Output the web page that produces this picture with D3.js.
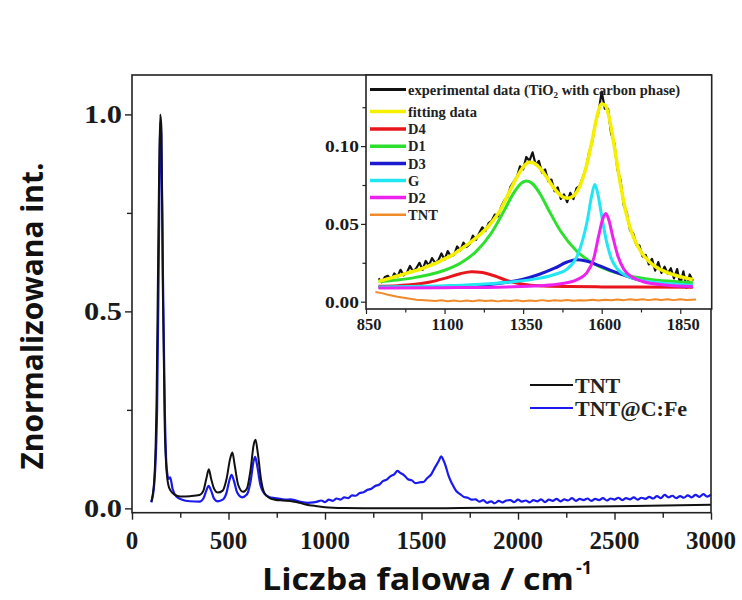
<!DOCTYPE html>
<html><head><meta charset="utf-8">
<script src="https://cdn.jsdelivr.net/npm/d3@7"></script>
<style>body{margin:0;background:#fff}svg{display:block}</style>
</head><body><svg id="c" width="742" height="600"></svg>
<script>
// ---------- main chart data ----------
const xTicksMain = [0, 500, 1000, 1500, 2000, 2500, 3000];
const yTicksMain = [0.0, 0.5, 1.0];
const tntX = [100,115,128,138,146,152,160,170,180,188,200,220,250,300,350,370,385,398,410,425,445,470,490,508,520,532,550,575,595,615,630,640,652,668,685,710,740,780,820,860,900,950,1000,1100,1300,1500,1700,2000,2300,2600,3000];
const tntY = [0.017,0.07,0.3,0.75,1.0,0.97,0.55,0.2,0.09,0.06,0.045,0.035,0.03,0.031,0.034,0.045,0.075,0.099,0.075,0.05,0.04,0.045,0.075,0.125,0.142,0.11,0.06,0.042,0.05,0.1,0.16,0.174,0.14,0.075,0.04,0.027,0.022,0.02,0.019,0.015,0.01,0.006,0.003,0.001,0.0,0.0,0.001,0.002,0.004,0.006,0.009];
const cfeX = [100,115,130,140,147,152,160,170,180,190,198,210,230,260,300,350,370,385,397,410,425,445,470,490,505,516,528,545,570,595,615,630,638,648,665,685,710,740,770,800,820,850,880,910,940,
960,980,1000,1020,1040,1060,1080,1100,1120,1140,1160,1180,1200,1220,1240,1260,1280,1300,1320,1340,1360,1375,1390,1410,1430,1450,1470,1490,1510,1530,1550,1570,1590,1602,1612,1625,1640,1660,1680,1700,1720,1740,1760,1780,1800,1820,1840,1860,1880,1900,1920,1940,
1960,1980,2000,2020,2040,2060,2080,2100,2120,2140,2160,2180,2200,2220,2240,2260,2280,2300,2320,2340,2360,2380,2400,2420,2440,2460,2480,2500,2520,2540,2560,2580,2600,2620,2640,2660,2680,2700,2720,2740,2760,2780,2800,2820,2840,2860,2880,2900,2920,2940,2960,2980,3000];
const cfeY = [0.015,0.06,0.25,0.7,0.98,0.95,0.6,0.25,0.1,0.075,0.079,0.05,0.03,0.022,0.018,0.017,0.025,0.045,0.057,0.045,0.025,0.018,0.022,0.04,0.072,0.085,0.07,0.04,0.028,0.035,0.07,0.12,0.131,0.11,0.06,0.038,0.029,0.026,0.024,0.022,0.023,0.02,0.016,0.014,0.015,
0.017,0.020,0.016,0.022,0.019,0.025,0.022,0.028,0.026,0.033,0.032,0.039,0.041,0.047,0.050,0.057,0.060,0.069,0.073,0.082,0.087,0.095,0.090,0.084,0.074,0.071,0.064,0.066,0.067,0.077,0.086,0.104,0.121,0.132,0.124,0.108,0.083,0.061,0.044,0.036,0.029,0.027,0.022,0.023,0.017,0.021,0.014,0.018,0.013,0.019,0.015,0.020,
0.021,0.016,0.022,0.017,0.020,0.015,0.021,0.018,0.023,0.016,0.022,0.019,0.024,0.018,0.023,0.020,0.026,0.019,0.024,0.021,0.025,0.019,0.024,0.021,0.026,0.020,0.025,0.022,0.027,0.021,0.026,0.023,0.028,0.022,0.027,0.024,0.029,0.025,0.031,0.026,0.034,0.028,0.032,0.026,0.031,0.027,0.033,0.028,0.034,0.029,0.036,0.030,0.035];
const mainSeries = ["TNT", "TNT@C:Fe"];

// ---------- inset data ----------
const xTicksInset = [850, 1100, 1350, 1600, 1850];
const yTicksInset = [0.00, 0.05, 0.10];
const expX = [890,900,910,920,930,940,950,960,970,980,990,1000,1010,1020,1030,1040,1050,1060,1070,1080,1090,1100,1110,1120,1130,1140,1150,1160,1170,1180,1190,1200,1210,1220,1230,1240,1250,1260,1270,1280,1290,1300,1310,1320,1330,1340,1350,1360,1370,1380,1390,1400,1410,1420,1430,1440,1450,1460,1470,1480,1490,1500,1510,1520,1530,1540,1550,1560,1570,1580,1590,1600,1610,1620,1630,1640,1650,1660,1670,1680,1690,1700,1710,1720,1730,1740,1750,1760,1770,1780,1790,1800,1810,1820,1830,1840,1850,1860,1870,1880,1890];
const expY = [0.0150,0.0125,0.0158,0.0166,0.0140,0.0182,0.0160,0.0205,0.0170,0.0186,0.0230,0.0192,0.0215,0.0250,0.0205,0.0262,0.0232,0.0280,0.0250,0.0265,0.0310,0.0270,0.0325,0.0292,0.0300,0.0355,0.0330,0.0380,0.0352,0.0370,0.0425,0.0398,0.0440,0.0478,0.0455,0.0505,0.0520,0.0560,0.0548,0.0610,0.0650,0.0670,0.0740,0.0770,0.0800,0.0870,0.0850,0.0930,0.0905,0.0960,0.0880,0.0905,0.0830,0.0850,0.0775,0.0785,0.0710,0.0735,0.0660,0.0690,0.0640,0.0700,0.0660,0.0730,0.0745,0.0800,0.0860,0.0960,0.1030,0.1150,0.1220,0.1350,0.1240,0.1240,0.1080,0.1020,0.0850,0.0780,0.0620,0.0570,0.0460,0.0440,0.0365,0.0360,0.0290,0.0300,0.0240,0.0275,0.0200,0.0255,0.0185,0.0225,0.0180,0.0215,0.0150,0.0210,0.0110,0.0195,0.0090,0.0175,0.0135];
const fitX = [890,925,950,975,1000,1025,1050,1075,1100,1125,1150,1175,1200,1225,1250,1275,1300,1325,1350,1368,1385,1400,1425,1450,1475,1492,1510,1530,1550,1570,1585,1600,1612,1625,1640,1660,1680,1700,1725,1750,1775,1800,1825,1850,1890];
const fitY = [0.013,0.015,0.0165,0.018,0.0195,0.021,0.023,0.025,0.0275,0.030,0.0335,0.037,0.041,0.0455,0.051,0.058,0.068,0.078,0.0865,0.0897,0.089,0.0865,0.080,0.0725,0.0675,0.0665,0.068,0.074,0.086,0.104,0.119,0.127,0.126,0.117,0.1,0.075,0.055,0.042,0.032,0.026,0.022,0.0195,0.0175,0.016,0.0143];
const d4X = [890,950,1000,1050,1100,1150,1186,1220,1260,1300,1350,1400,1500,1600,1700,1890];
const d4Y = [0.0100,0.0103,0.0110,0.0125,0.0150,0.0180,0.0193,0.0187,0.0165,0.0135,0.0112,0.0102,0.0097,0.0095,0.0094,0.0093];
const d1X = [890,950,1000,1050,1100,1150,1200,1250,1290,1320,1345,1361,1380,1405,1430,1470,1520,1570,1620,1680,1750,1820,1890];
const d1Y = [0.0129,0.0140,0.0153,0.0173,0.0202,0.0247,0.0322,0.0445,0.0587,0.0699,0.0763,0.0776,0.0758,0.0689,0.0594,0.0451,0.0326,0.0250,0.0203,0.0169,0.0145,0.0131,0.0121];
const d3X = [890,1000,1100,1200,1250,1300,1350,1400,1450,1490,1519,1550,1600,1650,1700,1750,1800,1850,1890];
const d3Y = [0.0092,0.0094,0.0098,0.0105,0.0112,0.0125,0.0145,0.0175,0.0215,0.0255,0.027,0.0262,0.0225,0.0185,0.015,0.0125,0.011,0.0102,0.0098];
const gX = [890,1000,1100,1200,1300,1400,1450,1490,1520,1540,1555,1568,1578,1588,1600,1615,1630,1650,1680,1720,1780,1840,1890];
const gY = [0.0095,0.0098,0.0102,0.011,0.0125,0.015,0.0175,0.021,0.0285,0.040,0.053,0.068,0.0754,0.069,0.055,0.039,0.028,0.021,0.0165,0.014,0.0122,0.0112,0.0106];
const d2X = [890,1100,1300,1400,1470,1520,1550,1575,1590,1603,1613,1622,1635,1652,1670,1695,1730,1800,1890];
const d2Y = [0.0088,0.009,0.0095,0.0102,0.0115,0.014,0.018,0.028,0.042,0.053,0.0567,0.053,0.042,0.029,0.021,0.016,0.013,0.0108,0.0098];
const tntInsetX = [880,900,920,950,980,1010,1050,1070,1090,1110,1130,1150,1170,1190,1210,1230,1250,1270,1290,1310,1330,1350,1370,1390,1410,1430,1450,1470,1490,1510,1530,1550,1570,1590,1610,1630,1650,1670,1690,1710,1730,1750,1770,1790,1810,1830,1850,1870,1900];
const tntInsetY = [0.0062,0.0055,0.0045,0.0032,0.0022,0.0013,0.0008,0.0004,0.0009,0.0003,0.0008,0.0002,0.0007,0.0003,0.0009,0.0004,0.0008,0.0002,0.0008,0.0004,0.0009,0.0003,0.0007,0.0004,0.0010,0.0005,0.0009,0.0006,0.0011,0.0006,0.0010,0.0007,0.0012,0.0008,0.0013,0.0009,0.0014,0.0010,0.0016,0.0011,0.0015,0.0010,0.0016,0.0011,0.0015,0.0010,0.0016,0.0011,0.0014];
const insetLegend = ["fitting data", "D4", "D1", "D3", "G", "D2", "TNT"];

// ---------- drawing ----------
const svg = d3.select("#c");
const serif = "'Liberation Serif','Times New Roman',serif";
const sans = "'Open Sans','Noto Sans',sans-serif";

const M = {l:132, r:711, t:75, b:512.7};
const x = d3.scaleLinear().domain([0,3000]).range([M.l, M.r]);
const y = d3.scaleLinear().domain([-0.011, 1.10]).range([M.b, M.t]);

const zip = (a,b) => a.map((v,i)=>[v,b[i]]);

// main curves
const lineMain = d3.line().x(d=>x(d[0])).y(d=>y(d[1]));
svg.append("path").datum(zip(cfeX,cfeY)).attr("d", lineMain.curve(d3.curveMonotoneX))
  .attr("fill","none").attr("stroke","#1a1aee").attr("stroke-width",2.2);
svg.append("path").datum(zip(tntX,tntY)).attr("d", lineMain.curve(d3.curveMonotoneX))
  .attr("fill","none").attr("stroke","#111").attr("stroke-width",2);

// main frame
svg.append("rect").attr("x",M.l).attr("y",M.t).attr("width",M.r-M.l).attr("height",M.b-M.t)
  .attr("fill","none").attr("stroke","#222").attr("stroke-width",1.6);

// main axes
const gx = svg.append("g").attr("transform",`translate(0,${M.b})`);
gx.call(d3.axisBottom(x).tickValues(d3.range(0,3001,250)).tickSize(6).tickFormat(""));
gx.selectAll(".tick line").attr("y2", d => d%500===0 ? 7 : 5).attr("stroke","#222").attr("stroke-width",1.4);
gx.select(".domain").remove();
gx.selectAll(".lbl").data(xTicksMain).enter().append("text").attr("class","lbl")
  .attr("x", d=>x(d)).attr("y", 36).attr("text-anchor","middle").attr("fill","#1a1a1a")
  .attr("font-family",serif).attr("font-weight","bold").attr("font-size",25).text(d=>d);

const gy = svg.append("g").attr("transform",`translate(${M.l},0)`);
gy.call(d3.axisLeft(y).tickValues([0,0.25,0.5,0.75,1.0]).tickSize(6).tickFormat(""));
gy.selectAll(".tick line").attr("x2", d => (Math.round(d*100)%50===0) ? -7 : -5).attr("stroke","#222").attr("stroke-width",1.4);
gy.select(".domain").remove();
gy.selectAll(".lbl").data(yTicksMain).enter().append("text").attr("class","lbl")
  .attr("x", -10).attr("y", d=>y(d)).attr("dy","0.35em").attr("text-anchor","end").attr("fill","#1a1a1a")
  .attr("font-family",serif).attr("font-weight","bold").attr("font-size",25)
  .attr("textLength",38).attr("lengthAdjust","spacingAndGlyphs").text(d=>d.toFixed(1));

// axis titles
svg.append("text").attr("transform","translate(43,316) rotate(-90)").attr("text-anchor","middle")
  .attr("font-family",sans).attr("font-weight","bold").attr("font-size",30).attr("fill","#111")
  .attr("textLength",307).attr("lengthAdjust","spacingAndGlyphs").text("Znormalizowana int.");
svg.append("text").attr("x",262).attr("y",590)
  .attr("font-family",sans).attr("font-weight","bold").attr("font-size",30).attr("fill","#111")
  .attr("textLength",312).attr("lengthAdjust","spacingAndGlyphs").text("Liczba falowa / cm");
svg.append("text").attr("x",576).attr("y",574)
  .attr("font-family",sans).attr("font-weight","bold").attr("font-size",18).attr("fill","#111").text("-1");

// main legend
const mainColors = ["#111","#1a1aee"];
mainSeries.forEach((s,i)=>{
  const yy = 385 + i*23;
  svg.append("line").attr("x1",530).attr("x2",573).attr("y1",yy).attr("y2",yy)
    .attr("stroke",mainColors[i]).attr("stroke-width",2);
  svg.append("text").attr("x",575).attr("y",yy).attr("dy","0.35em")
    .attr("font-family",serif).attr("font-weight","bold").attr("font-size",22).attr("fill","#222").text(s);
});

// ---------- inset ----------
const I = {l:366, r:711.7, t:75, b:309};
const xi = d3.scaleLinear().domain([850,1950]).range([I.l, I.r]);
const yi = d3.scaleLinear().domain([-0.0047,0.1457]).range([I.b, I.t]);
svg.append("rect").attr("x",I.l).attr("y",I.t).attr("width",I.r-I.l).attr("height",I.b-I.t)
  .attr("fill","#fff").attr("stroke","none");

const lineI = d3.line().x(d=>xi(d[0])).y(d=>yi(d[1]));
const drawI = (xs, ys, col, w, curve) => svg.append("path").datum(zip(xs,ys))
  .attr("d", lineI.curve(curve)).attr("fill","none").attr("stroke",col).attr("stroke-width",w)
  .attr("stroke-linejoin","round");
drawI(tntInsetX, tntInsetY, "#f08a2a", 2, d3.curveLinear);
drawI(expX, expY, "#111", 2.2, d3.curveLinear);
drawI(d4X, d4Y, "#e8161c", 3, d3.curveMonotoneX);
drawI(d1X, d1Y, "#2ee02e", 3, d3.curveMonotoneX);
drawI(d3X, d3Y, "#1a1ad0", 3, d3.curveMonotoneX);
drawI(gX, gY, "#22e6f2", 3, d3.curveMonotoneX);
drawI(d2X, d2Y, "#ee22ee", 3, d3.curveMonotoneX);
drawI(fitX, fitY, "#f4f000", 3.5, d3.curveMonotoneX);

svg.append("rect").attr("x",I.l).attr("y",I.t).attr("width",I.r-I.l).attr("height",I.b-I.t)
  .attr("fill","none").attr("stroke","#222").attr("stroke-width",1.6);

const gxi = svg.append("g").attr("transform",`translate(0,${I.b})`);
gxi.call(d3.axisBottom(xi).tickValues(d3.range(850,1951,125)).tickSize(5).tickFormat(""));
gxi.selectAll(".tick line").attr("y2", d => (d-850)%250===0 ? 5 : 3.5).attr("stroke","#222").attr("stroke-width",1.2);
gxi.select(".domain").remove();
gxi.selectAll(".lbl").data(xTicksInset).enter().append("text").attr("class","lbl")
  .attr("x", d=>xi(d)+3).attr("y", 21).attr("text-anchor","middle").attr("fill","#1a1a1a")
  .attr("font-family",serif).attr("font-weight","bold").attr("font-size",16.5).text(d=>d);

const gyi = svg.append("g").attr("transform",`translate(${I.l},0)`);
gyi.call(d3.axisLeft(yi).tickValues([0,0.025,0.05,0.075,0.1,0.125]).tickSize(5).tickFormat(""));
gyi.selectAll(".tick line").attr("x2", (d,i) => i%2===0 ? -5 : -3.5).attr("stroke","#222").attr("stroke-width",1.2);
gyi.select(".domain").remove();
gyi.selectAll(".lbl").data(yTicksInset).enter().append("text").attr("class","lbl")
  .attr("x", -7).attr("y", d=>yi(d)).attr("dy","0.35em").attr("text-anchor","end").attr("fill","#1a1a1a")
  .attr("font-family",serif).attr("font-weight","bold").attr("font-size",17)
  .attr("textLength",34).attr("lengthAdjust","spacingAndGlyphs").text(d=>d.toFixed(2));

// inset legend
const legCols = ["#f4f000","#e8161c","#2ee02e","#1a1ad0","#22e6f2","#ee22ee","#f08a2a"];
const legYs = [111.5,129,146.3,163.5,180.5,197.5,214.8];
svg.append("line").attr("x1",370).attr("x2",406).attr("y1",89.5).attr("y2",89.5).attr("stroke","#111").attr("stroke-width",3);
const t0 = svg.append("text").attr("x",408).attr("y",89.5).attr("dy","0.35em")
  .attr("font-family",serif).attr("font-weight","bold").attr("font-size",14.5).attr("fill","#222");
t0.append("tspan").text("experimental data (TiO");
t0.append("tspan").attr("font-size",9).attr("dy",3).text("2");
t0.append("tspan").attr("dy",-3).text(" with carbon phase)");
insetLegend.forEach((s,i)=>{
  svg.append("line").attr("x1",370).attr("x2",406).attr("y1",legYs[i]).attr("y2",legYs[i])
    .attr("stroke",legCols[i]).attr("stroke-width", i===6 ? 2.5 : 3.5);
  svg.append("text").attr("x",408).attr("y",legYs[i]).attr("dy","0.35em")
    .attr("font-family",serif).attr("font-weight","bold").attr("font-size",14.5).attr("fill","#222").text(s);
});
</script></body></html>
